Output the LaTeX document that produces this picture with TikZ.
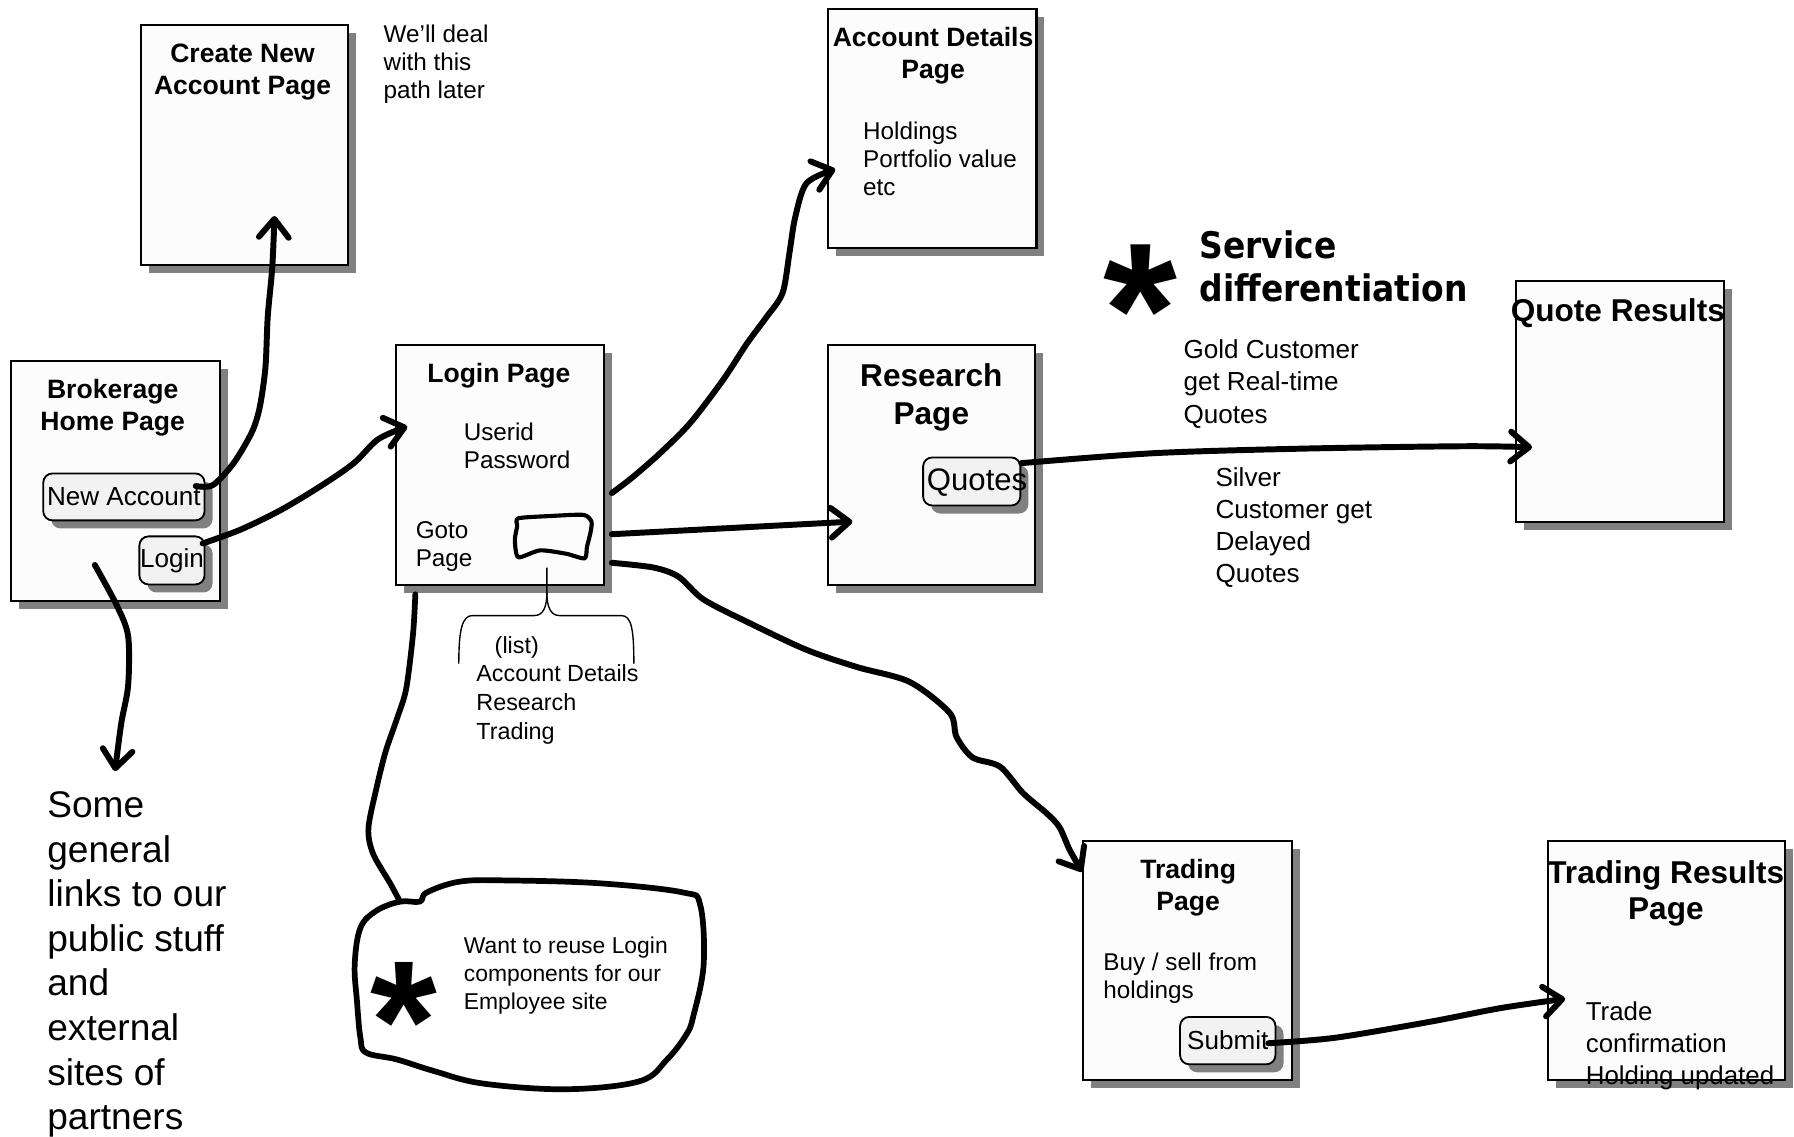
\documentclass[tikz,border=0pt]{standalone}
\usepackage{fontspec}
\setmainfont{Liberation Sans}
\newfontfamily\servfont{DejaVu Sans Condensed}
\usetikzlibrary{arrows.meta,positioning,shadows}
\definecolor{pagefill}{RGB}{252,252,252}
\definecolor{btnfill}{RGB}{242,242,242}
\definecolor{shadegray}{RGB}{128,128,128}

\begin{document}
\begin{tikzpicture}[x=0.5pt,y=-0.5pt,
  pagebox/.style={draw,line width=0.9pt,fill=pagefill,anchor=north west,inner sep=0pt,
    drop shadow={shadow xshift=3.5pt,shadow yshift=-3.5pt,fill=shadegray,opacity=1}},
  btn/.style={draw,line width=0.8pt,rounded corners=4pt,fill=btnfill,anchor=north west,inner sep=0pt,
    font=\fontsize{11.4}{13}\selectfont,
    drop shadow={shadow xshift=3.5pt,shadow yshift=-3.5pt,fill=shadegray,opacity=1}},
  pagettl/.style={font=\bfseries\fontsize{11.6}{14}\selectfont,align=center,inner sep=0pt},
  bigttl/.style={font=\bfseries\fontsize{13.8}{16.6}\selectfont,align=center,inner sep=0pt},
  notetxt/.style={font=\fontsize{10.6}{12.2}\selectfont,align=left,anchor=west,inner sep=0pt},
  link/.style={line width=2.6pt,line cap=round,line join=round,-{Straight Barb[length=8pt,width=13pt,round]}},
  scrawl/.style={line width=2.5pt,line cap=round,line join=round}]
  \useasboundingbox (0,0) rectangle (1568,993);
  \fill[white] (0,0) rectangle (1568,993);

  % pages
  \node[pagebox,minimum width=90.5pt,minimum height=105pt] (create) at (122,21) {};
  \node[pagebox,minimum width=91pt,minimum height=104.5pt] (home) at (9,315) {};
  \node[pagebox,minimum width=91pt,minimum height=104.5pt] (login) at (345,301) {};
  \node[pagebox,minimum width=91pt,minimum height=104.5pt] (acct) at (723,7) {};
  \node[pagebox,minimum width=90.75pt,minimum height=104.5pt] (research) at (722.5,301) {};
  \node[pagebox,minimum width=91pt,minimum height=105pt] (quote) at (1324,245) {};
  \node[pagebox,minimum width=91.25pt,minimum height=104.7pt] (trading) at (946,734) {};
  \node[pagebox,minimum width=103.5pt,minimum height=104.7pt] (tresults) at (1352,734) {};

  % buttons
  \node[btn,minimum width=70.5pt,minimum height=20.5pt] (newacc) at (37,413) {New Account};
  \node[btn,minimum width=28.5pt,minimum height=21pt] (loginbtn) at (121,468) {Login};
  \node[btn,minimum width=42.5pt,minimum height=21pt] (quotesbtn) at (806,399) {};
  \node[font=\fontsize{13.6}{15}\selectfont,inner sep=0pt] (quotestxt) at (854,422) {Quotes};
  \node[btn,minimum width=41.7pt,minimum height=20.7pt] (submitbtn) at (1030.6,888) {Submit};

  % page texts
  \node[pagettl] (createttl) at (212,63) {Create New\\Account Page};
  \node[notetxt] (later) at (335,56) {We’ll deal\\with this\\path later};
  \node[pagettl] (homettl) at (98.5,356) {Brokerage\\Home Page};
  \node[pagettl] (loginttl) at (436,328) {Login Page};
  \node[notetxt] (creds) at (405,390) {Userid\\Password};
  \node[notetxt] (gotopage) at (363,478) {Goto\\Page};
  \node[pagettl] (acctttl) at (815.5,49) {Account Details\\Page};
  \node[notetxt] (holdings) at (754,139) {Holdings\\Portfolio value\\etc};
  \node[bigttl] (researchttl) at (814,347) {Research\\Page};
  \node[bigttl] (quotettl) at (1414,274) {Quote Results};
  \node[pagettl] (tradingttl) at (1038.5,776) {Trading\\Page};
  \node[notetxt] (buysell) at (964,855) {Buy / sell from\\holdings};
  \node[bigttl,font=\bfseries\fontsize{13.8}{16}\selectfont] (tresultsttl) at (1456,781) {Trading Results\\Page};
  \node[notetxt,font=\fontsize{11.3}{13.9}\selectfont] (confirm) at (1385.7,914) {Trade\\confirmation\\Holding updated};

  % notes
  \node[font=\bfseries\fontsize{83}{83}\selectfont,inner sep=0pt] (servstar) at (997,271) {*};
  \node[notetxt,font=\servfont\bfseries\fontsize{16}{19}\selectfont] (servtxt) at (1048,233) {Service\\differentiation};
  \node[notetxt,font=\fontsize{11.4}{14}\selectfont] (gold) at (1034,335.6) {Gold Customer\\get Real-time\\Quotes};
  \node[notetxt,font=\fontsize{11.4}{14}\selectfont] (silver) at (1062,461) {Silver\\Customer get\\Delayed\\Quotes};
  \node[notetxt,font=\fontsize{10.2}{12.7}\selectfont] (listhead) at (432,566) {(list)};
  \node[notetxt,font=\fontsize{10.2}{12.7}\selectfont] (listitems) at (416,616) {Account Details\\Research\\Trading};
  \node[notetxt,font=\fontsize{16.2}{19.5}\selectfont] (links) at (41,843) {Some\\general\\links to our\\public stuff\\and\\external\\sites of\\partners};
  \node[notetxt,font=\fontsize{10}{12.2}\selectfont] (reuse) at (405,853) {Want to reuse Login\\components for our\\Employee site};
  \node[font=\bfseries\fontsize{75}{75}\selectfont,inner sep=0pt] (reusestar) at (353,893) {*};

  % sketched goto box and brace
  \draw[line width=1.8pt,line join=round] plot[smooth cycle,tension=0.4] coordinates {(453,453) (481,451) (510,450) (517,456) (516,466) (513,478) (511,488) (495,484) (472,481) (453,487) (450,472) (452,460)};
  \draw[line width=0.6pt] (401,580) .. controls (401,550) and (404,538) .. (413,538) -- (467,538) .. controls (475,538) and (478,530) .. (478,518) -- (478,496);
  \draw[line width=0.6pt] (478,518) .. controls (478,530) and (481,538) .. (489,538) -- (543,538) .. controls (552,538) and (554,550) .. (554,580);

  % cloud
  \draw[scrawl] plot[smooth cycle,tension=0.6] coordinates {(349.6,788) (367,788) (373,780) (402,770.5) (443,769.5) (524,772) (597,780) (612,791) (615,843) (606,888) (600,904) (583,926) (559,945) (495,952) (422,947) (379,936) (347,926) (320,920) (315,907) (312,875) (310,843) (315,811) (329,796)};
  \coordinate (blobtop) at (349.6,788);
  \coordinate (linkstop) at (100.5,674);

  % links
  \draw[link] plot[smooth,tension=0.5] coordinates {([shift={(-8.5,-9.5)}]newacc.east) (186,424) (204,405) (220,378) (227,356) (232,321) (234,277) (238,233) ([shift={(26.5,-44)}]create.south)};
  \draw[link] plot[smooth,tension=0.5] coordinates {([shift={(-2.5,7)}]loginbtn.north east) (210,463) (245,446) (280,425) (309,405) (329,385) (347,376) ([shift={(11,-33.5)}]login.west)};
  \draw[link] plot[smooth,tension=0.5] coordinates {([shift={(-18,-32)}]home.south) (102,529) (112,556) (112,599) (106,632) (linkstop)};
  \draw[link] plot[smooth,tension=0.5] coordinates {([shift={(6,24.5)}]login.east) (553,417) (577,396) (603,370) (632,332) (653,300) (670,277) (684,256) (690,221) (695,190) (705,160) ([shift={(7,35.5)}]acct.west)};
  \draw[link] ([shift={(6,60.5)}]login.east) -- ([shift={(22.5,49.5)}]research.west);
  \draw[link] plot[smooth,tension=0.5] coordinates {([shift={(6,85.5)}]login.east) (571,496) (593,504) (615,524) (656,545) (705,568) (749,583) (795,596) (830,623) (836,644) (850,662) (874,670) (894,693) (915,711) (926,723) (935,743) ([shift={(0,28)}]trading.north west)};
  \draw[link] plot[smooth,tension=0.5] coordinates {([shift={(0,-16)}]quotesbtn.east) (1010,396) (1143,392) (1281,390) ([shift={(15,40)}]quote.west)};
  \draw[link] plot[smooth,tension=0.5] coordinates {([shift={(-7,2.3)}]submitbtn.east) (1167,907) (1250,893) (1312,881) ([shift={(16,33.3)}]tresults.west)};
  \draw[scrawl] plot[smooth,tension=0.5] coordinates {([shift={(18,7.6)}]login.south west) (361,554) (355,602) (347,628) (337,657) (329,689) (322,724) (326,746) (341,772) (blobtop)};
\end{tikzpicture}
\end{document}
